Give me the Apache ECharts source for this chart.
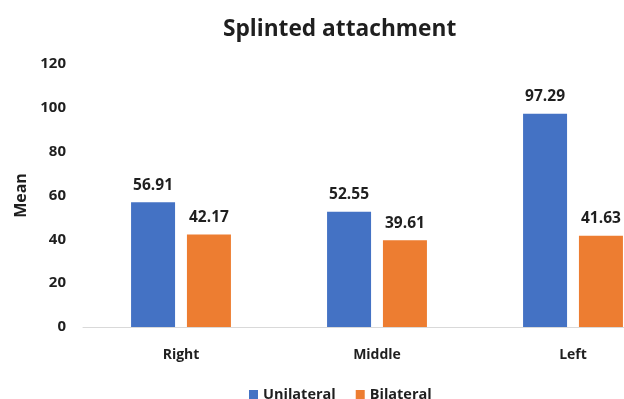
<!DOCTYPE html>
<html>
<head>
<meta charset="utf-8">
<script src="https://cdn.jsdelivr.net/npm/echarts@6/dist/echarts.min.js"></script>
<style>
  html, body { margin: 0; padding: 0; background: #fff; overflow: hidden; }
  #wrap { width: 624px; height: 399px; overflow: hidden; }
  #chart { width: 680px; height: 399px; }
</style>
</head>
<body>
<div id="wrap"><div id="chart"></div></div>
<script>
const categories = ['Right', 'Middle', 'Left'];
const unilateral = [56.91, 52.55, 97.29];
const bilateral = [42.17, 39.61, 41.63];
const yTicks = [0, 20, 40, 60, 80, 100, 120];

const FONT = '"Open Sans", sans-serif';
const TEXT = '#1f1f1f';

const chart = echarts.init(document.getElementById('chart'), null, { renderer: 'canvas' });

const labelStyle = {
  show: true,
  position: 'top',
  distance: 9,
  fontFamily: FONT,
  fontWeight: 'bold',
  fontSize: 15.5,
  color: TEXT,
  formatter: p => p.value.toFixed(2)
};

chart.setOption({
  animation: false,
  backgroundColor: '#fff',
  title: {
    text: 'Splinted attachment',
    left: 218,
    top: 13,
    textStyle: { fontFamily: FONT, fontWeight: 'bold', fontSize: 22.7, color: TEXT }
  },
  legend: {
    data: ['Unilateral', 'Bilateral'],
    left: 244,
    top: 382,
    icon: 'rect',
    itemWidth: 9,
    itemHeight: 9,
    itemGap: 20,
    textStyle: { fontFamily: FONT, fontWeight: 'bold', fontSize: 14.5, color: TEXT, padding: [0, 0, 0, 0] }
  },
  grid: { left: 83, top: 64, width: 588, height: 263, containLabel: false },
  xAxis: {
    type: 'category',
    data: categories,
    axisLine: { lineStyle: { color: '#d9d9d9', width: 1 } },
    axisTick: { show: false },
    axisLabel: { margin: 21, fontFamily: FONT, fontWeight: 'bold', fontSize: 14, color: TEXT }
  },
  yAxis: {
    type: 'value',
    min: yTicks[0],
    max: yTicks[yTicks.length - 1],
    interval: yTicks[1] - yTicks[0],
    name: 'Mean',
    nameLocation: 'middle',
    nameGap: 53,
    nameTextStyle: { fontFamily: FONT, fontWeight: 'bold', fontSize: 16, color: TEXT },
    axisLine: { show: false },
    axisTick: { show: false },
    splitLine: { show: false },
    axisLabel: { margin: 17, fontFamily: FONT, fontWeight: 'bold', fontSize: 15, color: TEXT }
  },
  series: [
    {
      name: 'Unilateral',
      type: 'bar',
      data: unilateral,
      barWidth: 44,
      barGap: '27%',
      itemStyle: { color: '#4472C4' },
      label: labelStyle
    },
    {
      name: 'Bilateral',
      type: 'bar',
      data: bilateral,
      barWidth: 44,
      itemStyle: { color: '#ED7D31' },
      label: labelStyle
    }
  ]
});
</script>
</body>
</html>
